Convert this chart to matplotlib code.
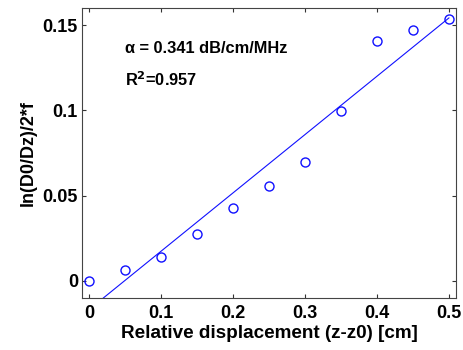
import numpy as np
import matplotlib.pyplot as plt

plt.rcParams['font.family'] = ['Liberation Sans', 'DejaVu Sans']
plt.rcParams['font.weight'] = 'bold'

displacement = [0.0, 0.05, 0.1, 0.15, 0.2, 0.25, 0.3, 0.35, 0.4, 0.45, 0.5]
log_ratio = [0.0, 0.0065, 0.0137, 0.0275, 0.0428, 0.0555, 0.0696, 0.0994, 0.1406, 0.1469, 0.1535]
x_ticks = [0, 0.1, 0.2, 0.3, 0.4, 0.5]
y_ticks = [0, 0.05, 0.1, 0.15]

x = np.array(displacement)
y = np.array(log_ratio)
slope, intercept = np.polyfit(x, y, 1)

fig = plt.figure(figsize=(4.64, 3.5), dpi=100)
ax = fig.add_axes([0.177, 0.149, 0.806, 0.828])

ax.plot(x, y, 'o', mfc='none', mec='#1010ff', ms=6.5, mew=1.0)
ax.plot(x, slope * x + intercept, color='#1010ff', lw=0.8)

ax.set_xlim(-0.01, 0.51)
ax.set_ylim(-0.01, 0.16)
ax.set_xticks(x_ticks)
ax.set_xticklabels(['0', '0.1', '0.2', '0.3', '0.4', '0.5'])
ax.set_yticks(y_ticks)
ax.set_yticklabels(['0', '0.05', '0.1', '0.15'])
ax.tick_params(direction='in', length=3, width=0.8, top=True, right=True,
               labelsize=13, colors='#333333', labelcolor='black', pad=3)
ax.tick_params(axis='x', pad=5)
for s in ax.spines.values():
    s.set_color('#444444')
    s.set_linewidth(0.8)

ax.set_xlabel("Relative displacement (z-z0) [cm]", fontsize=13.6, fontweight='bold', labelpad=2)
ax.set_ylabel("ln(D0/Dz)/2*f", fontsize=13, fontweight='bold', labelpad=4)

ax.text(0.049, 0.1365, "α = 0.341 dB/cm/MHz", fontsize=11.8, fontweight='bold', va='center')
ax.text(0.049, 0.118, r"R$^\mathbf{2}$=0.957", fontsize=11.8, fontweight='bold', va='center')

fig.savefig("out.png", dpi=100)
